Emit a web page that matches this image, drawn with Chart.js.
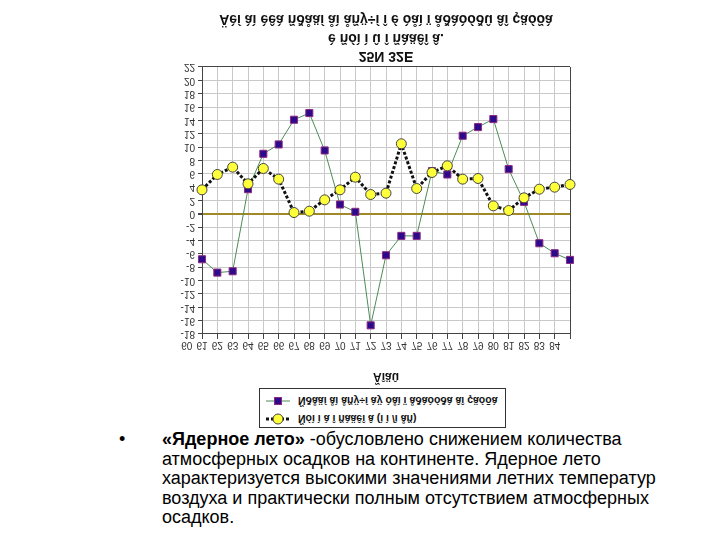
<!DOCTYPE html>
<html>
<head>
<meta charset="utf-8">
<script src="https://cdn.jsdelivr.net/npm/chart.js@4.4.0/dist/chart.umd.min.js"></script>
<style>
  body { margin: 0; width: 720px; height: 540px; background: #fff; position: relative; overflow: hidden;
         font-family: "Liberation Sans", Arial, sans-serif; }
  /* the whole chart picture is upside down in the slide, so the canvas is flipped */
  #chart { position: absolute; left: 0; top: 0; transform: scaleY(-1); }
  #title { position: absolute; left: 202px; top: 10px; width: 368px; text-align: center;
           font: bold 14px "Liberation Sans", Arial, sans-serif; line-height: 18.5px; color: #111; }
  #title div { transform: scaleY(-1); white-space: pre; }
  #legend { position: absolute; left: 259px; top: 388px; width: 247px; height: 40px; box-sizing: border-box;
            border: 1px solid #333; background: #fff; font: bold 10.5px "Liberation Sans", Arial, sans-serif; color: #111; }
  #legend .row { position: absolute; left: 5px; height: 16px; display: flex; align-items: center; }
  #legend .row span { display: inline-block; transform: scaleY(-1); white-space: pre; margin-left: 7px; }
  #bullet { position: absolute; left: 119px; top: 430px; font-size: 18px; line-height: 19.5px; }
  #note { position: absolute; left: 162px; top: 430px; font-size: 18px; line-height: 19.5px; color: #000; white-space: nowrap; }
</style>
</head>
<body>
<canvas id="chart" width="720" height="390"></canvas>
<div id="title"></div>

<div id="legend">
  <div class="row" style="top:4px">
    <svg width="26" height="16"><line x1="1" y1="8" x2="25" y2="8" stroke="#4c8c58" stroke-width="1"/>
      <rect x="9.5" y="4.5" width="7" height="7" fill="#2c0a8a" stroke="#8c2a84" stroke-width="1"/></svg>
    <span id="lg1"></span>
  </div>
  <div class="row" style="top:22px">
    <svg width="26" height="16"><line x1="1" y1="8" x2="25" y2="8" stroke="#111" stroke-width="3" stroke-dasharray="3 2"/>
      <circle cx="13" cy="8" r="5" fill="#ffff3a" stroke="#444" stroke-width="1"/></svg>
    <span id="lg2"></span>
  </div>
</div>

<div id="bullet">•</div>
<div id="note"><b>«Ядерное лето»</b> -обусловлено снижением количества<br>атмосферных осадков на континенте. Ядерное лето<br>характеризуется высокими значениями летних температур<br>воздуха и практически полным отсутствием атмосферных<br>осадков.</div>

<script>
// data
const years = ['60','61','62','63','64','65','66','67','68','69','70','71','72',
               '73','74','75','76','77','78','79','80','81','82','83','84'];
const temperature = [-6.8, -8.8, -8.6, 3.7, 9.0, 10.4, 14.1, 15.1, 9.5, 1.4, 0.3, -16.7, -6.2,
                     -3.3, -3.3, 6.4, 5.9, 11.7, 13.0, 14.2, 6.7, 1.8, -4.4, -5.9, -6.9];
const precipitation = [3.6, 5.9, 7.0, 4.5, 6.8, 5.2, 0.2, 0.4, 2.1, 3.6, 5.5, 2.9, 3.1,
                       10.5, 3.8, 6.2, 7.2, 5.2, 5.3, 1.2, 0.5, 2.4, 3.7, 4.0, 4.4];
const yMin = -18, yMax = 22, yStep = 2;

// garbled (cp1251 shown as latin-1) texts, spaced the way the slide shows them
const titleLines = ['Äèí àì èêà ñðåäí åì åñÿ÷í î é òåì ï åðàòóðû âî çäóõà', 'è ñóì ì û î ñàäêî â.', '25N 32E'];
const xTitle = 'Ãîäû';
const seriesNames = ['Ñðåäí åì åñÿ÷í àÿ òåì ï åðàòóðà âî çäóõà', 'Ñóì ì à î ñàäêî â (ì ì /ì åñ)'];

// title lines, each shown upside down like the slide
const titleBox = document.getElementById('title');
titleLines.forEach(t => {
  const d = document.createElement('div');
  d.textContent = t;
  titleBox.appendChild(d);
});
document.getElementById('lg1').textContent = seriesNames[0];
document.getElementById('lg2').textContent = seriesNames[1];

const gridGrey = '#c9c9c9', frame = '#444';

new Chart(document.getElementById('chart'), {
  type: 'line',
  data: {
    labels: years,
    datasets: [
      {
        label: seriesNames[0], data: temperature, order: 2,
        borderColor: '#4c8c58', borderWidth: 1, tension: 0,
        pointStyle: 'rect', pointRadius: 5,
        pointBackgroundColor: '#2c0a8a', pointBorderColor: '#8c2a84', pointBorderWidth: 1
      },
      {
        label: seriesNames[1], data: precipitation, order: 1,
        borderColor: '#111', borderWidth: 3, borderDash: [3, 2], tension: 0,
        pointStyle: 'circle', pointRadius: 5,
        pointBackgroundColor: '#ffff3a', pointBorderColor: '#444', pointBorderWidth: 1
      }
    ]
  },
  options: {
    responsive: false,
    animation: false,
    // canvas is flipped: bottom padding here is the room for the title above the plot
    layout: { padding: { left: 150, right: 150, top: 0, bottom: 67 } },
    plugins: {
      legend: { display: false },
      tooltip: { enabled: false }
    },
    scales: {
      x: {
        position: 'top',
        afterFit: s => { s.height = 56; },
        border: { color: frame, width: 1 },
        grid: {
          color: c => c.index === years.length - 1 ? frame : gridGrey,
          tickColor: frame, tickLength: 5
        },
        ticks: {
          autoSkip: false, maxRotation: 0, padding: 0, labelOffset: -15.3,
          color: '#333', font: { family: 'Liberation Sans, Arial', size: 10 }
        },
        title: {
          display: true, text: xTitle, color: '#111',
          font: { family: 'Liberation Sans, Arial', size: 12, weight: 'bold' },
          padding: { top: 6, bottom: 0 }
        }
      },
      y: {
        reverse: true, min: yMin, max: yMax,
        afterFit: s => { s.width = 52; },
        border: { color: frame, width: 1 },
        grid: {
          color: c => c.tick.value === 0 ? '#a08a28' : (c.tick.value === yMax ? frame : gridGrey),
          lineWidth: c => c.tick.value === 0 ? 2 : 1,
          tickColor: frame, tickLength: 4
        },
        ticks: {
          stepSize: yStep, autoSkip: false, padding: 3, color: '#333',
          font: { family: 'Liberation Sans, Arial', size: 10 }
        }
      }
    }
  }
});
</script>
</body>
</html>
